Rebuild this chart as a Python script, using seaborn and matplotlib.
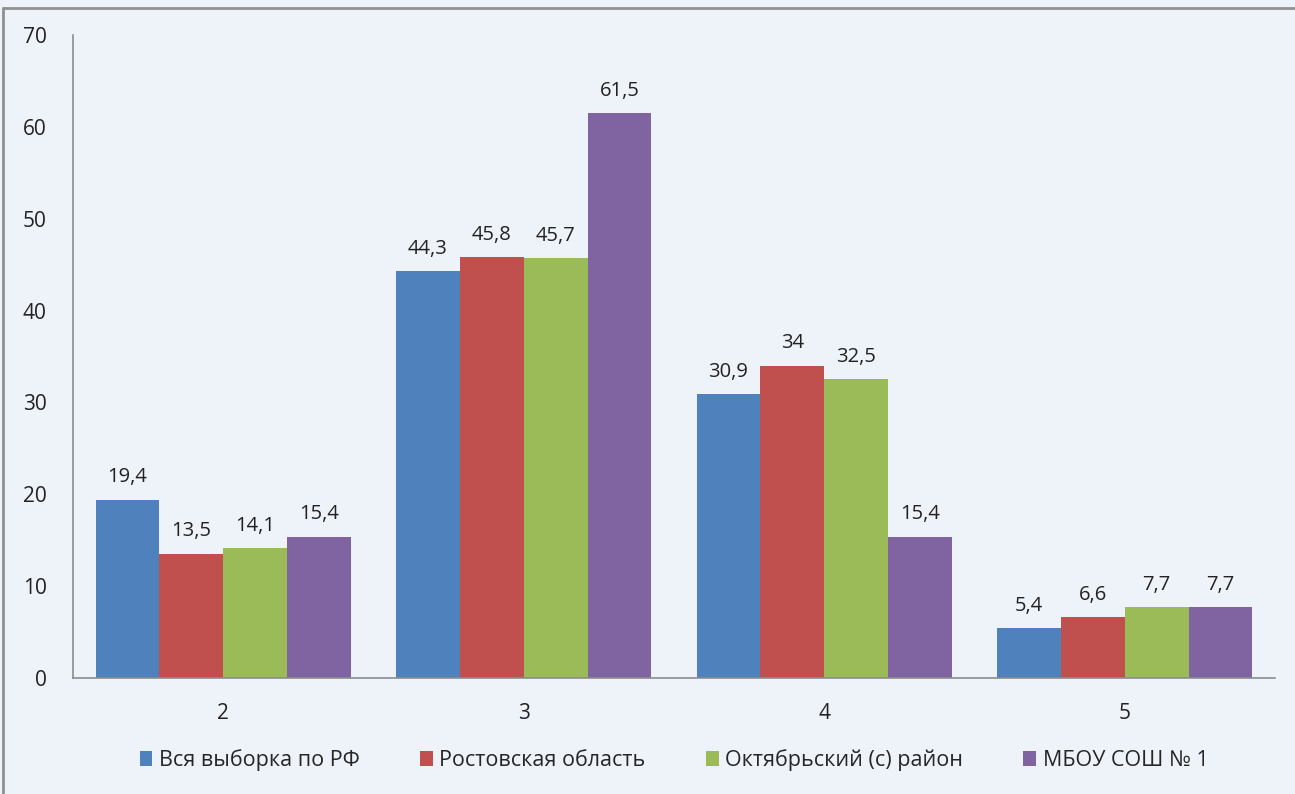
import pandas as pd
import matplotlib.pyplot as plt
import seaborn as sns

grades = ['2', '3', '4', '5']
series = ['Вся выборка по РФ', 'Ростовская область', 'Октябрьский (с) район', 'МБОУ СОШ № 1']
rf = [19.4, 44.3, 30.9, 5.4]
rostov = [13.5, 45.8, 34, 6.6]
okt = [14.1, 45.7, 32.5, 7.7]
school = [15.4, 61.5, 15.4, 7.7]
colors = ['#4F81BD', '#C0504D', '#9BBB59', '#8064A2']

rows = []
for name, vals in zip(series, [rf, rostov, okt, school]):
    for g, v in zip(grades, vals):
        rows.append({'Оценка': g, 'Процент': v, 'Группа': name})
df = pd.DataFrame(rows)

sns.set_style('white')
plt.rcParams['font.family'] = ['Open Sans', 'DejaVu Sans']

bg = '#eef2f9'
fig = plt.figure(figsize=(12.95, 7.94), dpi=100, facecolor=bg)
ax = fig.add_axes([73 / 1295, 1 - 678 / 794, (1275 - 73) / 1295, (678 - 35) / 794])
ax.set_facecolor(bg)

sns.barplot(data=df, x='Оценка', y='Процент', hue='Группа', palette=colors,
            width=0.85, saturation=1, linewidth=0, ax=ax, legend=True)

for cont in ax.containers:
    ax.bar_label(cont, labels=[f'{v:g}'.replace('.', ',') for v in cont.datavalues],
                 padding=9, fontsize=14.5, color='#222222')

ax.set_ylim(0, 70)
ax.set_xlim(-0.5, 3.5)
ax.set_yticks(range(0, 71, 10))
ax.set_xlabel('')
ax.set_ylabel('')
ax.tick_params(axis='y', length=0, pad=19, labelsize=15, labelcolor='#222222')
ax.tick_params(axis='x', length=0, pad=18, labelsize=15, labelcolor='#222222')
for s in ['top', 'right']:
    ax.spines[s].set_visible(False)
for s in ['left', 'bottom']:
    ax.spines[s].set_color('#8c8c8c')
    ax.spines[s].set_linewidth(1.2)

handles, labels = ax.get_legend_handles_labels()
ax.legend(handles, labels, loc='center', bbox_to_anchor=(0.5, -0.128), ncol=4,
          frameon=False, fontsize=15.5, handlelength=0.6, handleheight=0.7,
          handletextpad=0.3, columnspacing=2.8)

# рамка слайда
fig.add_artist(plt.Line2D([3 / 1295, 3 / 1295], [0, 1 - 8 / 794], color='#909090', lw=2))
fig.add_artist(plt.Line2D([3 / 1295, 1], [1 - 8 / 794, 1 - 8 / 794], color='#909090', lw=2))

fig.savefig('out.png', dpi=100, facecolor=bg)
